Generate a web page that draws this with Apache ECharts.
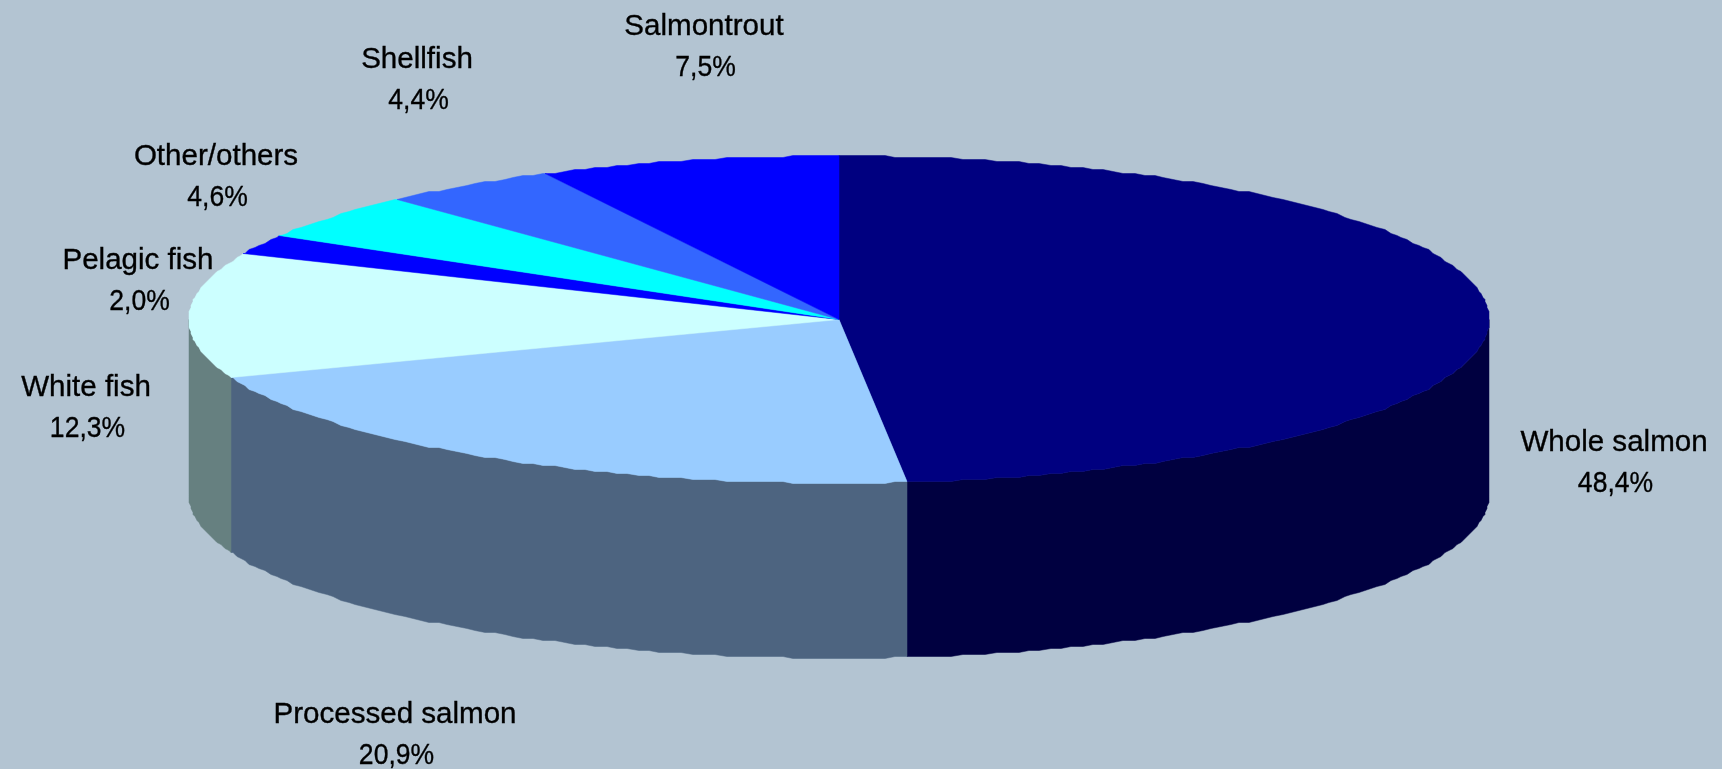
<!DOCTYPE html>
<html>
<head>
<meta charset="utf-8">
<style>html,body{margin:0;padding:0;background:#B3C4D2}#c{width:1722px;height:769px}</style>
<script src="https://cdn.jsdelivr.net/npm/echarts@6/dist/echarts.min.js"></script>
</head>
<body>
<div id="c"></div>
<script>
const categories = ['Whole salmon','Processed salmon','White fish','Pelagic fish','Other/others','Shellfish','Salmontrout'];
const shares = [48.4,20.9,12.3,2.0,4.6,4.4,7.5];
const topColors = ['#000080','#99CCFF','#CCFFFF','#0000FF','#00FFFF','#3366FF','#0000FF'];
const sideColors = ['#000040','#4D6480','#668080','#000080','#008080','#1A3380','#000080'];
const labelCentres = [[1614,462],[395,734],[86,407],[138,280],[216,176],[417,79],[704,46]];

const CX = 839, CY = 319.5, RX = 650, RY = 163.5, DEPTH = 175, SNAP = 2;
const DEG = Math.PI/180;
const total = shares.reduce((a,b)=>a+b,0);
const starts = []; shares.reduce((acc,v,i)=>{starts[i]=acc;return acc+v;},0);
const ang = v => v/total*2*Math.PI;
const snap = d => Math.round(d/SNAP)*SNAP;
const rim = (t,dy) => [CX+snap(RX*Math.sin(t)), CY+snap(-RY*Math.cos(t))+(dy||0)];
// vertices sit on a shared whole-degree grid so that top rim and wall rim coincide
function arc(a,b,dy){
  const pts=[rim(a,dy)];
  for(let d=Math.floor(a/DEG+1e-9)+1; d*DEG<b-1e-9; d++) pts.push(rim(d*DEG,dy));
  pts.push(rim(b,dy));
  return pts;
}
function renderItem(params,api){
  const i = params.dataIndex;
  const a = ang(starts[i]), b = a+ang(api.value(0));
  const children = [];
  const fa = Math.max(a,Math.PI/2), fb = Math.min(b,3*Math.PI/2);
  if(fb>fa){
    const front = arc(fa,fb,0), lower = arc(fa,fb,DEPTH).reverse();
    children.push({type:'polygon',shape:{points:front.concat(lower)},
      style:{fill:sideColors[i],stroke:sideColors[i],lineWidth:0.5}});
  }
  children.push({type:'polygon',z2:2,shape:{points:[[CX,CY]].concat(arc(a,b,0))},
    style:{fill:topColors[i],stroke:topColors[i],lineWidth:0.5}});
  const c = labelCentres[i];
  const pct = api.value(0).toFixed(1).replace('.',',')+'%';
  [[categories[i],0,-19.5,0.985],[pct,1.5,22,0.885]].forEach(([t,dx,dy,sx])=>{
    children.push({type:'text',z2:3,x:c[0]+dx,y:c[1]+dy,scaleX:sx,
      style:{text:t,x:0,y:0,textAlign:'center',textVerticalAlign:'middle',
      font:'30px "Liberation Sans", Arial, sans-serif',fill:'#000',stroke:'#000',lineWidth:0.35}});
  });
  return {type:'group',children};
}
const chart = echarts.init(document.getElementById('c'),null,{renderer:'canvas'});
chart.setOption({
  animation:false,
  backgroundColor:'#B3C4D2',
  series:[{type:'custom',coordinateSystem:'none',renderItem,
    data:shares.map((v,i)=>({name:categories[i],value:[v]}))}]
});
</script>
</body>
</html>
